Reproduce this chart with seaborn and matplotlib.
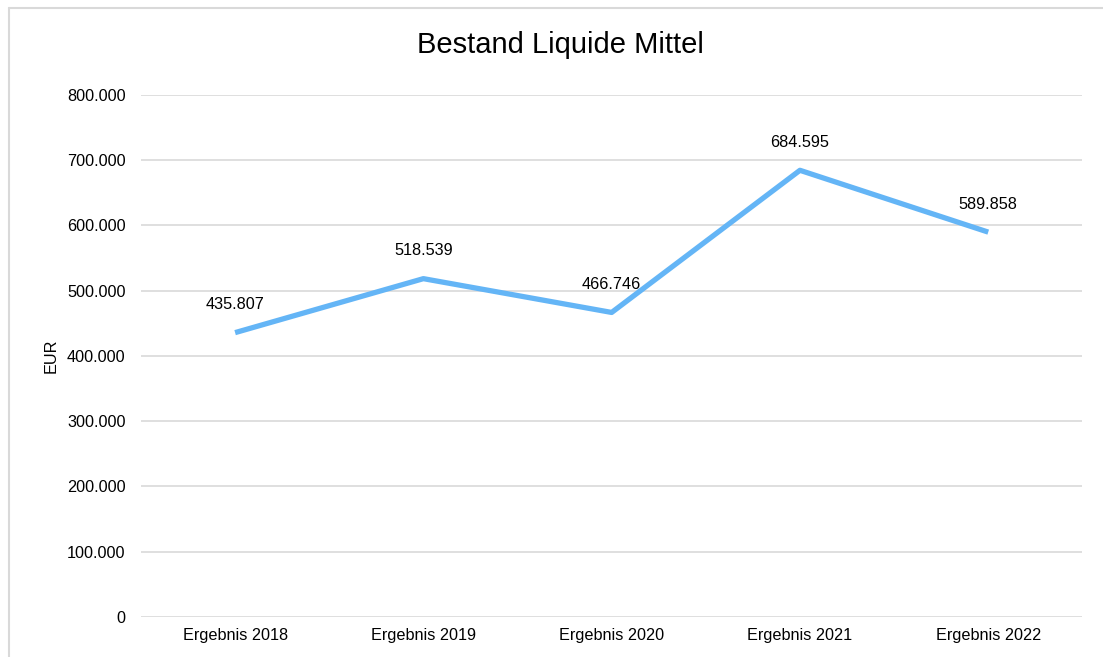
import matplotlib
matplotlib.use("Agg")
import matplotlib.pyplot as plt
import matplotlib.ticker as mticker
from matplotlib.lines import Line2D
import seaborn as sns
import pandas as pd

# data
categories = ["Ergebnis 2018", "Ergebnis 2019", "Ergebnis 2020", "Ergebnis 2021", "Ergebnis 2022"]
values = [435807, 518539, 466746, 684595, 589858]

df = pd.DataFrame({"Jahr": categories, "EUR": values})

sns.set_theme(style="white")
plt.rcParams["font.family"] = ["Liberation Sans", "DejaVu Sans"]

fig = plt.figure(figsize=(11.03, 6.57), dpi=100)
ax = fig.add_axes([0.1278, 0.0609, 0.8535, 0.7945])

sns.lineplot(data=df, x="Jahr", y="EUR", ax=ax, color="#64B5F6", linewidth=3.8,
             sort=False, solid_capstyle="butt", zorder=3)

def de_fmt(v, pos=None):
    return f"{v:,.0f}".replace(",", ".")

for i, v in enumerate(values):
    ax.annotate(de_fmt(v), (i, v), xytext=(0, 20), textcoords="offset points",
                ha="center", va="center", fontsize=11.7, color="#000000")

ax.set_xlim(-0.5, len(categories) - 0.5)
ax.set_ylim(0, 800000)
ax.yaxis.set_major_locator(mticker.MultipleLocator(100000))
ax.yaxis.set_major_formatter(mticker.FuncFormatter(de_fmt))
ax.grid(axis="y", color="#d9d9d9", linewidth=1.2)
ax.grid(axis="x", visible=False)
for s in ax.spines.values():
    s.set_visible(False)
ax.tick_params(axis="both", length=0, labelsize=11.7, colors="#000000", pad=11)
ax.tick_params(axis="x", pad=8)
ax.set_xlabel("")
ax.set_ylabel("EUR", fontsize=11.7, color="#000000", labelpad=6)

# title centred on the chart area, not the plot area
fig.text(560 / 1103, 1 - 45 / 657, "Bestand Liquide Mittel", fontsize=21,
         color="#000000", ha="center", va="center")

# chart frame (cut off at right and bottom)
x0 = 9 / 1103
y1 = 1 - 8 / 657
fig.add_artist(Line2D([x0, x0], [0, y1], transform=fig.transFigure, color="#d9d9d9", linewidth=1.5))
fig.add_artist(Line2D([x0, 1.0], [y1, y1], transform=fig.transFigure, color="#d9d9d9", linewidth=1.5))

fig.savefig("out.png", dpi=100, facecolor="white")
